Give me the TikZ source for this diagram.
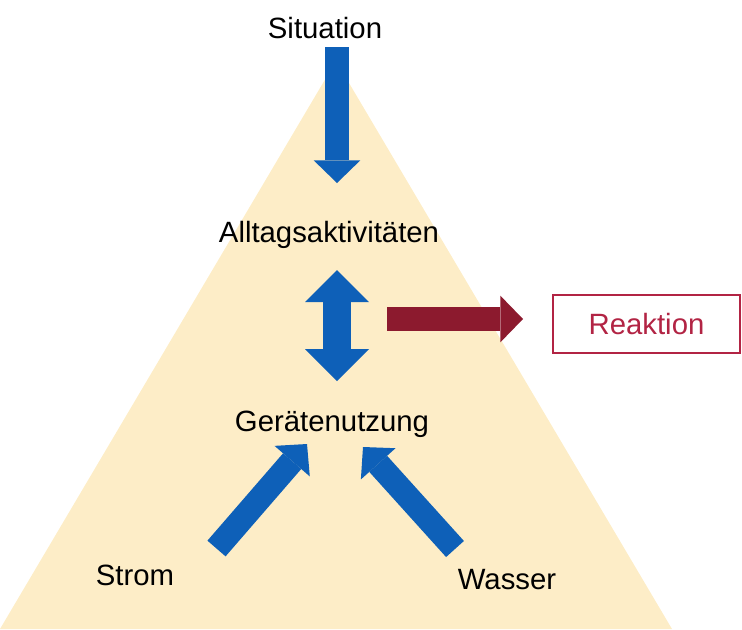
\documentclass[tikz,border=0pt]{standalone}
\usepackage{fontspec}
\setmainfont{Liberation Sans}
\usepackage{tikz}
\usetikzlibrary{arrows.meta}

\definecolor{pyrfill}{RGB}{253,237,199}
\definecolor{flowblue}{RGB}{14,96,184}
\definecolor{reactred}{RGB}{140,26,46}
\definecolor{boxred}{RGB}{178,36,68}

\begin{document}
\begin{tikzpicture}[
      x=0.75pt,y=-0.75pt,
      font=\fontsize{22}{26}\selectfont,
      lbl/.style   ={inner sep=0pt,anchor=base},
      pyr/.style   ={fill=pyrfill,draw=none},
      flow/.style  ={draw=flowblue,line width=18pt,-{Triangle[width=35pt,length=17pt,line width=0pt]}},
      both/.style  ={draw=flowblue,line width=21pt,{Triangle[width=48pt,length=24pt,line width=0pt]}-{Triangle[width=48pt,length=24pt,line width=0pt]}},
      react/.style ={draw=reactred,line width=18pt,-{Triangle[width=35pt,length=17pt,line width=0pt]}},
      resbox/.style={draw=boxred,line width=1.6pt,text=boxred,minimum width=140pt,minimum height=43.5pt}]
      \useasboundingbox (0,0) rectangle (742,629);
      % Pyramid
      \coordinate (Top) at (336,61);
      \coordinate (BR)  at (672,629);
      \coordinate (BL)  at (0,629);
      \fill[pyr] (Top)--(BR)--(BL)--cycle;

      % Labels
      \node[lbl] (Sit)    at (325,38)  {Situation};
      \node[lbl] (Alltag) at (329,242) {Alltagsaktivitäten};
      \node[lbl] (Geraet) at (332,431) {Gerätenutzung};
      \node[lbl] (Strom)  at (135,585) {Strom};
      \node[lbl] (Wasser) at (507,589) {Wasser};
      \node[resbox] (Reak) at (646.5,324) {Reaktion};

      % Arrow ends
      \coordinate (SitOut)    at (337,47);
      \coordinate (AlltagIn)  at (337,183);
      \coordinate (AlltagOut) at (337,270);
      \coordinate (GeraetIn)  at (337,381);
      \coordinate (StromOut)  at (216.5,548.5);
      \coordinate (StromIn)   at (307,444);
      \coordinate (WasserOut) at (455,549);
      \coordinate (WasserIn)  at (363,447);
      \coordinate (ReakOut)   at (387,319);
      \coordinate (ReakIn)    at (523,319);

      % Arrows
      \draw[flow]  (SitOut) -- (AlltagIn);
      \draw[both]  (AlltagOut) -- (GeraetIn);
      \draw[flow]  (StromOut) -- (StromIn);
      \draw[flow]  (WasserOut) -- (WasserIn);
      \draw[react] (ReakOut) -- (ReakIn);
  \end{tikzpicture}
\end{document}
